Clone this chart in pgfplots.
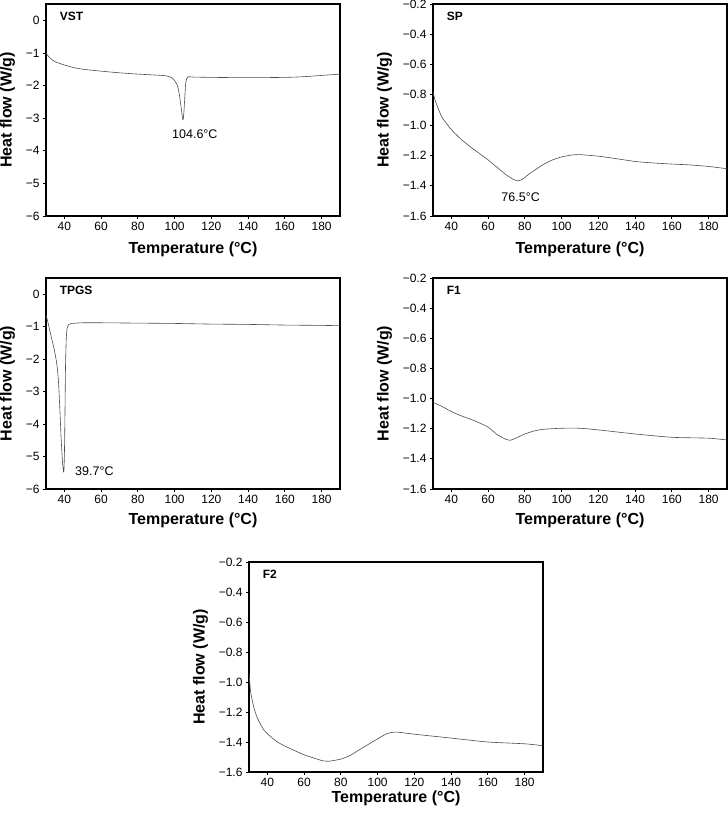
\documentclass[border=0pt]{standalone}
\usepackage{pgfplots}
\pgfplotsset{compat=1.18}
\usepackage{fontspec}
\setmainfont{Liberation Sans}

\pgfplotstableread{
T v
30 -1.0
32 -1.15
35 -1.27
40 -1.37
45 -1.45
50 -1.50
60 -1.56
70 -1.61
80 -1.65
90 -1.68
95 -1.70
98 -1.75
100 -1.85
101.5 -2.0
102.5 -2.25
103.5 -2.65
104.3 -3.0
104.6 -3.05
105.0 -2.85
105.5 -2.4
106 -1.95
106.6 -1.78
107.5 -1.73
110 -1.74
120 -1.75
140 -1.76
160 -1.75
170 -1.73
180 -1.69
190 -1.65
}\vst

\pgfplotstableread{
T v
30 -0.78
31 -0.83
32.5 -0.88
35 -0.95
40 -1.03
45 -1.09
50 -1.14
55 -1.185
60 -1.23
65 -1.28
70 -1.33
74 -1.36
76.5 -1.368
79 -1.355
82 -1.325
85 -1.30
90 -1.26
95 -1.23
100 -1.21
105 -1.198
110 -1.195
120 -1.205
130 -1.222
140 -1.24
150 -1.25
160 -1.257
170 -1.263
180 -1.273
190 -1.288
}\sp

\pgfplotstableread{
T v
30 -0.65
31 -0.85
32 -1.1
33 -1.35
34 -1.58
35 -1.85
36 -2.2
36.8 -2.7
37.5 -3.5
38.2 -4.4
38.9 -5.1
39.4 -5.4
39.7 -5.48
40.0 -5.0
40.3 -3.8
40.6 -2.3
41.0 -1.4
41.5 -1.05
42.5 -0.93
44 -0.9
50 -0.88
60 -0.88
80 -0.89
100 -0.9
120 -0.92
140 -0.93
160 -0.95
180 -0.96
190 -0.97
}\tpgs

\pgfplotstableread{
T v
30 -1.024
35 -1.053
40 -1.086
45 -1.113
50 -1.135
55 -1.16
60 -1.19
65 -1.24
70 -1.272
72 -1.277
75 -1.263
80 -1.235
85 -1.215
90 -1.204
100 -1.197
110 -1.197
120 -1.208
140 -1.235
160 -1.257
180 -1.263
190 -1.275
}\fone

\pgfplotstableread{
T v
30 -0.942
31 -1.075
33 -1.186
35 -1.252
38 -1.319
40 -1.345
45 -1.396
50 -1.43
60 -1.485
70 -1.525
73 -1.529
80 -1.514
85 -1.49
90 -1.452
100 -1.379
105 -1.345
110 -1.334
120 -1.348
140 -1.374
160 -1.40
180 -1.412
190 -1.425
}\ftwo

\pgfplotsset{
  dsc/.style={
    scale only axis,
    width=294bp,
    anchor=south west,
    xmin=30, xmax=190,
    xtick={40,60,...,180},
    xtick pos=bottom,
    ytick pos=left,
    axis line style={line width=1.2pt},
    tick align=outside,
    tick style={black, line width=0.8pt},
    major tick length=3bp,
    /pgf/number format/assume math mode=true,
    ticklabel style={font=\fontsize{12bp}{13bp}\selectfont},
    xlabel={Temperature (°C)},
    ylabel={Heat flow (W/g)},
    label style={font=\fontsize{16bp}{18bp}\selectfont\bfseries},
    xlabel style={yshift=-4bp},
    ylabel style={yshift=4bp},
    clip=false,
  },
  curve/.style={line width=0.6pt, color=black!70, mark=none, smooth, tension=0.4},
  wide/.style={ymin=-6, ymax=0.5, ytick={-6,-5,...,0},
    yticklabels={−6,−5,−4,−3,−2,−1,0}},
  narrow/.style={ymin=-1.6, ymax=-0.2, ytick={-1.6,-1.4,...,-0.2},
    yticklabels={−1.6,−1.4,−1.2,−1.0,−0.8,−0.6,−0.4,−0.2}},
}

\begin{document}
\begin{tikzpicture}[x=1bp,y=1bp]
\useasboundingbox (0,0) rectangle (728,814);

% VST
\begin{axis}[dsc, wide, at={(46bp,598bp)}, height=212bp]
\addplot[curve] table[x=T,y=v] {\vst};
\node[anchor=west,font=\fontsize{12bp}{14bp}\selectfont\bfseries] at (rel axis cs:0.035,0.94) {VST};
\node[font=\fontsize{12.5bp}{14bp}\selectfont] at (axis cs:111,-3.5) {104.6°C};
\end{axis}

% SP
\begin{axis}[dsc, narrow, at={(433bp,598bp)}, height=212bp]
\addplot[curve] table[x=T,y=v] {\sp};
\node[anchor=west,font=\fontsize{12bp}{14bp}\selectfont\bfseries] at (rel axis cs:0.035,0.94) {SP};
\node[font=\fontsize{12.5bp}{14bp}\selectfont] at (axis cs:77.7,-1.476) {76.5°C};
\end{axis}

% TPGS
\begin{axis}[dsc, wide, at={(46bp,325bp)}, height=211bp, xlabel style={yshift=2bp}]
\addplot[curve] table[x=T,y=v] {\tpgs};
\node[anchor=west,font=\fontsize{12bp}{14bp}\selectfont\bfseries] at (rel axis cs:0.035,0.94) {TPGS};
\node[anchor=west,font=\fontsize{12.5bp}{14bp}\selectfont] at (axis cs:44,-5.45) {39.7°C};
\end{axis}

% F1
\begin{axis}[dsc, narrow, at={(433bp,325bp)}, height=211bp, xlabel style={yshift=2bp}]
\addplot[curve] table[x=T,y=v] {\fone};
\node[anchor=west,font=\fontsize{12bp}{14bp}\selectfont\bfseries] at (rel axis cs:0.035,0.94) {F1};
\end{axis}

% F2
\begin{axis}[dsc, narrow, at={(249bp,42bp)}, height=210bp, xlabel style={yshift=7bp}]
\addplot[curve] table[x=T,y=v] {\ftwo};
\node[anchor=west,font=\fontsize{12bp}{14bp}\selectfont\bfseries] at (rel axis cs:0.035,0.94) {F2};
\end{axis}
\end{tikzpicture}
\end{document}
